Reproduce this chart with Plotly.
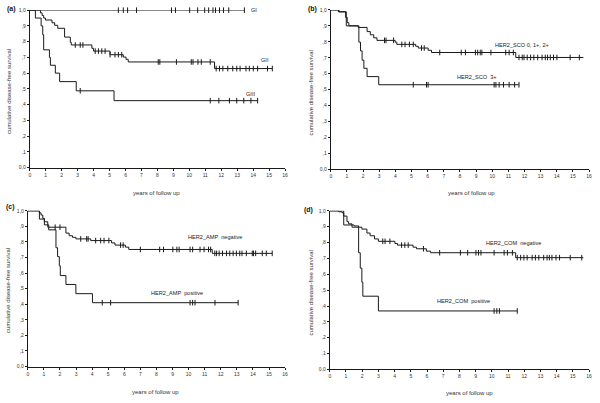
import plotly.graph_objects as go
import numpy as np

# ---------------- data (years, survival) ----------------
# Panel (a) grade
a_gi_t = [0]; a_gi_s = [1.0]; a_gi_end = 13.45
a_gi_cens = [5.55, 5.86, 6.13, 6.69, 8.88, 9.13, 10.02, 10.52, 10.96, 11.21, 11.48, 11.64, 11.89, 12.14, 12.47, 13.45]

a_gii_t = [0, 0.67, 0.77, 0.87, 0.98, 1.39, 1.56, 1.75, 2.18, 2.54, 2.6, 3.89, 3.99, 5.03, 5.86, 6.03, 6.17, 11.58]
a_gii_s = [1.0, 0.983, 0.966, 0.95, 0.9375, 0.92, 0.904, 0.885, 0.829, 0.796, 0.779, 0.758, 0.74, 0.717, 0.702, 0.6875, 0.671, 0.629]
a_gii_end = 15.2
a_gii_cens = [2.85, 3.16, 3.33, 4.1, 4.3, 4.51, 4.72, 5.03, 5.34, 5.55, 5.76, 8.05, 8.15, 9.19, 10.12, 10.23, 10.54, 10.75, 11.31,
              11.68, 11.89, 12.1, 12.41, 12.72, 12.97, 13.18, 13.55, 13.76, 14.01, 14.28, 14.9, 15.2]

a_giii_t = [0, 0.35, 0.71, 0.81, 0.87, 1.23, 1.29, 1.6, 1.87, 2.91, 5.28]
a_giii_s = [1.0, 0.95, 0.9, 0.844, 0.748, 0.70, 0.65, 0.60, 0.546, 0.4875, 0.425]
a_giii_end = 14.28
a_giii_cens = [3.16, 11.31, 11.85, 12.51, 12.97, 13.41, 13.86, 14.28]

# Panel (b) HER2_SCO
b_lo_t = [0, 0.51, 0.92, 1.02, 1.12, 1.7, 2.25, 2.45, 2.66, 2.86, 3.99, 4.09, 5.26, 5.42, 6.03, 6.24, 11.46]
b_lo_s = [1.0, 0.988, 0.953, 0.92, 0.90, 0.89, 0.864, 0.844, 0.825, 0.809, 0.798, 0.784, 0.772, 0.761, 0.747, 0.733, 0.702]
b_lo_end = 15.65
b_lo_cens = [3.33, 3.42, 3.89, 4.4, 4.6, 4.87, 5.11, 5.62, 5.79, 6.75, 8.08, 8.34, 8.96, 9.1, 9.26, 9.36, 9.92, 10.84, 11.05, 11.31,
             11.66, 11.86, 11.97, 12.17, 12.38, 12.58, 12.82, 13.09, 13.29, 13.43, 13.6, 13.8, 14.01, 14.83, 15.4]

b_hi_t = [0, 0.47, 0.96, 1.74, 1.84, 1.94, 2.05, 2.25, 2.97]
b_hi_s = [1.0, 0.988, 0.90, 0.798, 0.743, 0.685, 0.634, 0.582, 0.531]
b_hi_end = 11.66
b_hi_cens = [5.11, 5.93, 6.03, 10.12, 10.23, 10.43, 10.7, 11.05, 11.39, 11.66]

# Panel (c) HER2_AMP
c_neg_t = [0, 0.72, 0.82, 0.93, 1.03, 1.24, 2.37, 2.57, 2.78, 2.99, 3.91, 5.21, 5.42, 6.07, 6.28, 11.47]
c_neg_s = [1.0, 0.987, 0.973, 0.952, 0.93, 0.895, 0.857, 0.84, 0.83, 0.82, 0.809, 0.794, 0.78, 0.767, 0.752, 0.727]
c_neg_end = 15.2
c_neg_cens = [1.7, 2.0, 3.29, 3.66, 3.75, 4.22, 4.53, 4.74, 5.04, 5.77, 5.93, 7.0, 8.2, 8.44, 9.02, 9.27, 9.41, 10.09, 10.25, 10.71, 10.96, 11.24, 11.37,
              11.63, 11.74, 11.9, 12.11, 12.36, 12.56, 12.77, 12.97, 13.18, 13.32, 13.59, 13.96, 14.04, 14.17, 14.58, 14.83, 15.2]

c_pos_t = [0, 0.72, 1.03, 1.3, 1.75, 1.85, 1.96, 2.02, 2.37, 2.99, 4.02]
c_pos_s = [1.0, 0.947, 0.91, 0.878, 0.763, 0.706, 0.647, 0.584, 0.527, 0.468, 0.41]
c_pos_end = 13.08
c_pos_cens = [4.63, 5.15, 10.09, 10.25, 10.4, 11.64, 13.08]

# Panel (d) HER2_COM
d_neg_t = [0, 0.55, 0.76, 0.86, 1.06, 1.16, 1.37, 1.98, 2.29, 2.49, 2.76, 3.0, 4.02, 4.18, 5.14, 5.35, 5.96, 6.22, 11.47]
d_neg_s = [1.0, 0.994, 0.988, 0.967, 0.932, 0.918, 0.897, 0.885, 0.86, 0.843, 0.823, 0.808, 0.794, 0.784, 0.771, 0.761, 0.746, 0.736, 0.705]
d_neg_end = 15.65
d_neg_cens = [3.27, 3.41, 3.71, 4.43, 4.63, 4.84, 5.78, 6.78, 8.06, 8.51, 9.02, 9.18, 9.33, 10.14, 10.76, 10.96, 11.27,
              11.57, 11.78, 11.98, 12.18, 12.49, 12.69, 12.9, 13.2, 13.41, 13.55, 13.71, 13.96, 14.18, 14.84, 15.55]

d_pos_t = [0, 0.86, 1.5, 1.78, 1.88, 1.98, 2.04, 3.0]
d_pos_s = [1.0, 0.911, 0.905, 0.736, 0.639, 0.55, 0.462, 0.369]
d_pos_end = 11.57
d_pos_cens = [10.14, 10.31, 10.47, 11.57]

x_ticks = list(range(0, 17))
y_ticks = [0.0, 0.1, 0.2, 0.3, 0.4, 0.5, 0.6, 0.7, 0.8, 0.9, 1.0]
y_tick_text = ["0,0", ",1", ",2", ",3", ",4", ",5", ",6", ",7", ",8", ",9", "1,0"]

panel_letters = ["(a)", "(b)", "(c)", "(d)"]
curve_labels = [
    [("GI", 13.72, 1.0), ("GII", 14.39, 0.681), ("GIII", 13.45, 0.469)],
    [("HER2_SCO 0, 1+, 2+", 10.02, 0.778), ("HER2_SCO\u00a0 3+", 7.67, 0.578)],
    [("HER2_AMP\u00a0 negative", 9.84, 0.832), ("HER2_AMP\u00a0 positive", 7.52, 0.473)],
    [("HER2_COM\u00a0 negative", 9.53, 0.798), ("HER2_COM\u00a0 positive", 6.47, 0.431)],
]
x_title = "years of follow up"
y_title = "cumulative disease-free survival"

curves = [
    [(a_gi_t, a_gi_s, a_gi_end, a_gi_cens), (a_gii_t, a_gii_s, a_gii_end, a_gii_cens), (a_giii_t, a_giii_s, a_giii_end, a_giii_cens)],
    [(b_lo_t, b_lo_s, b_lo_end, b_lo_cens), (b_hi_t, b_hi_s, b_hi_end, b_hi_cens)],
    [(c_neg_t, c_neg_s, c_neg_end, c_neg_cens), (c_pos_t, c_pos_s, c_pos_end, c_pos_cens)],
    [(d_neg_t, d_neg_s, d_neg_end, d_neg_cens), (d_pos_t, d_pos_s, d_pos_end, d_pos_cens)],
]

# ---------------- layout geometry (pixels) ----------------
W, H = 600, 403
boxes = [(29, 286, 7.3, 167), (332, 592, 7, 169), (27, 286, 211, 369), (331, 592, 211, 372)]
letter_pos = [(4, 6), (307, 6), (3, 207), (303, 210)]
ytitle_pos = [(7.5, 90), (312, 91), (6.5, 292), (312, 294)]
xtitle_pos = [(157, 193), (474, 193), (156, 395), (472, 396)]

FONT = "Liberation Sans, Arial, sans-serif"
LINE = "#1a1a1a"

fig = go.Figure()

def survival_at(times, surv, t):
    idx = np.searchsorted(np.array(times), t, side="right") - 1
    return surv[max(idx, 0)]

annotations = []
layout_axes = {}
for i in range(4):
    suffix = "" if i == 0 else str(i + 1)
    xa, ya = "x" + suffix, "y" + suffix
    for (t, s, end, cens) in curves[i]:
        xs = list(t) + [end]
        ys = list(s) + [s[-1]]
        fig.add_trace(go.Scatter(x=xs, y=ys, mode="lines", line=dict(shape="hv", color=LINE, width=1),
                                 xaxis=xa, yaxis=ya, cliponaxis=False, hoverinfo="skip", showlegend=False))
        cy = [survival_at(t, s, c) for c in cens]
        fig.add_trace(go.Scatter(x=cens, y=cy, mode="markers",
                                 marker=dict(symbol="line-ns", size=4, line=dict(width=1, color=LINE)),
                                 xaxis=xa, yaxis=ya, cliponaxis=False, hoverinfo="skip", showlegend=False))
    x0, x1, yt, yb = boxes[i]
    layout_axes["xaxis" + suffix] = dict(
        domain=[x0 / W, x1 / W], range=[0, 16.001], anchor=ya, tickmode="array", tickvals=x_ticks,
        ticks="outside", ticklen=2, tickwidth=1, tickcolor=LINE, showline=True, linecolor=LINE, linewidth=1,
        showgrid=False, zeroline=False, tickfont=dict(size=5, family=FONT, color="#333"), fixedrange=True)
    layout_axes["yaxis" + suffix] = dict(
        domain=[1 - yb / H, 1 - yt / H], range=[0, 1], anchor=xa, tickmode="array", tickvals=y_ticks,
        ticktext=y_tick_text, ticks="outside", ticklen=2, tickwidth=1, tickcolor=LINE, showline=True,
        linecolor=LINE, linewidth=1, showgrid=False, zeroline=False,
        tickfont=dict(size=5, family=FONT, color="#333"), fixedrange=True)
    for (txt, lx, ly) in curve_labels[i]:
        annotations.append(dict(text=txt, x=lx, y=ly, xref=xa, yref=ya, xanchor="left", yanchor="middle",
                                showarrow=False, font=dict(size=5.6, family=FONT, color="#222")))
    lx, ly = letter_pos[i]
    annotations.append(dict(text="<b>" + panel_letters[i] + "</b>", x=lx / W, y=1 - ly / H, xref="paper", yref="paper",
                            xanchor="left", yanchor="middle", showarrow=False,
                            font=dict(size=7, family=FONT, color="#111")))
    tx, ty = ytitle_pos[i]
    annotations.append(dict(text=y_title, x=tx / W, y=1 - ty / H, xref="paper", yref="paper", textangle=-90,
                            xanchor="center", yanchor="middle", showarrow=False,
                            font=dict(size=6, family=FONT, color="#333")))
    tx, ty = xtitle_pos[i]
    annotations.append(dict(text=x_title, x=tx / W, y=1 - ty / H, xref="paper", yref="paper",
                            xanchor="center", yanchor="middle", showarrow=False,
                            font=dict(size=6, family=FONT, color="#333")))

fig.update_layout(width=W, height=H, margin=dict(l=0, r=0, t=0, b=0), paper_bgcolor="white",
                  plot_bgcolor="white", showlegend=False, annotations=annotations, **layout_axes)

fig.write_html("out.html", config={"displayModeBar": False},
               post_script="document.body.style.margin='0';document.body.style.overflow='hidden';")
